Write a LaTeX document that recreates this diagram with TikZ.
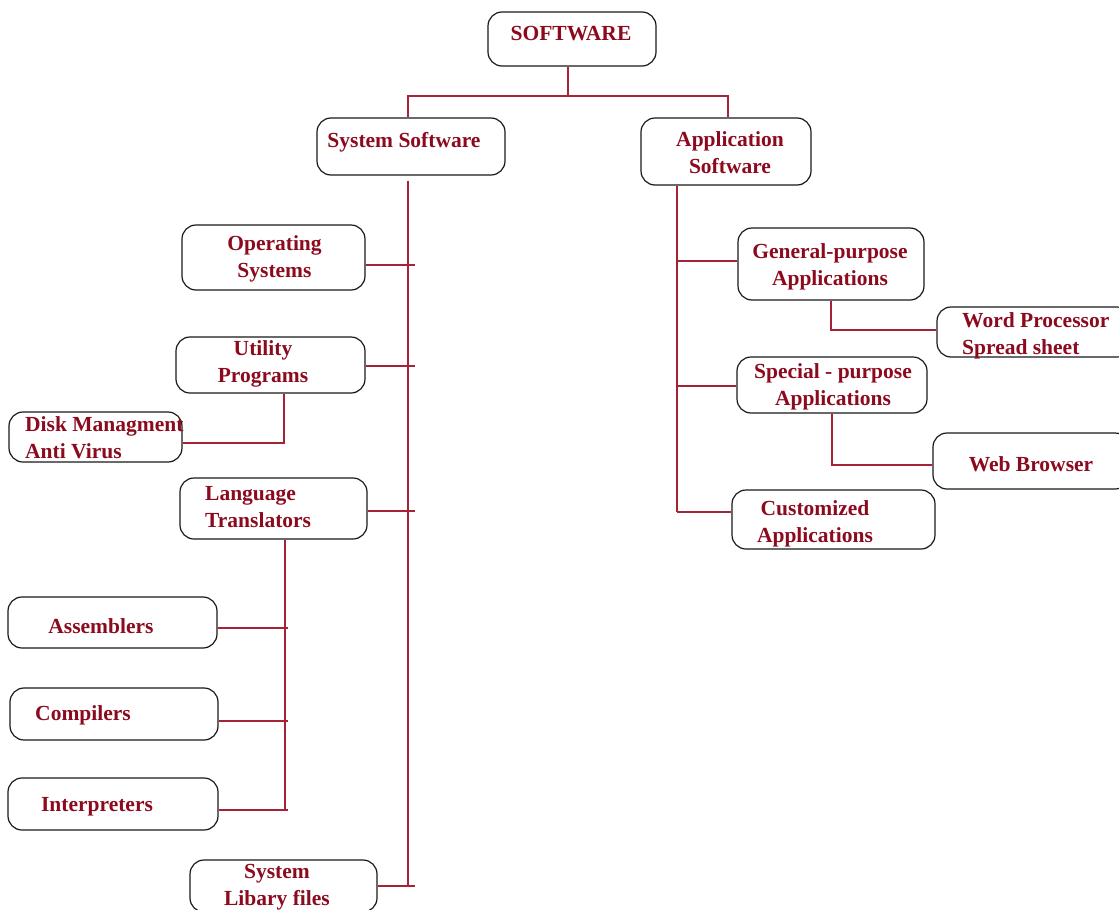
\documentclass[tikz,border=0pt]{standalone}
\usepackage{fontspec}
\setmainfont{Liberation Serif}
\definecolor{txtred}{RGB}{140,10,30}
\definecolor{linkred}{RGB}{165,35,55}

\begin{document}
\begin{tikzpicture}[x=1pt,y=1pt]
\tikzstyle{every node}+=[inner sep=0pt]
\tikzstyle{box}=[draw=black!90, line width=1.2pt, rounded corners=14pt]
\tikzstyle{txt}=[text=txtred, font=\fontsize{21.5}{27}\selectfont\bfseries, align=center, yshift=-2pt]
\tikzstyle{txtl}=[txt, align=left, anchor=west]
\tikzstyle{link}=[draw=linkred, line width=1.3pt]

\useasboundingbox (0,0) rectangle (1119,-910);

% boxes
\node[box, minimum width=168pt, minimum height=54pt] (soft) at (572,-39) {};
\node[box, minimum width=188pt, minimum height=57pt] (sys) at (411,-146.5) {};
\node[box, minimum width=170pt, minimum height=67pt] (app) at (726,-151.5) {};

\node[box, minimum width=183pt, minimum height=65pt] (os) at (273.5,-257.5) {};
\node[box, minimum width=189pt, minimum height=56pt] (util) at (270.5,-365) {};
\node[box, minimum width=173pt, minimum height=50pt] (disk) at (95.5,-437) {};
\node[box, minimum width=187pt, minimum height=61pt] (lang) at (273.5,-508.5) {};
\node[box, minimum width=209pt, minimum height=51pt] (asm) at (112.5,-622.5) {};
\node[box, minimum width=208pt, minimum height=52pt] (comp) at (114,-714) {};
\node[box, minimum width=210pt, minimum height=52pt] (interp) at (113,-804) {};
\node[box, minimum width=187pt, minimum height=52pt] (lib) at (283.5,-886) {};

\node[box, minimum width=186pt, minimum height=72pt] (gen) at (831,-264) {};
\node[box, minimum width=194pt, minimum height=50pt] (word) at (1034,-332) {};
\node[box, minimum width=190pt, minimum height=56pt] (spec) at (832,-385) {};
\node[box, minimum width=196pt, minimum height=56pt] (web) at (1031,-461) {};
\node[box, minimum width=203pt, minimum height=59pt] (cust) at (833.5,-519.5) {};

% texts
\node[txt] (softt) at (571,-32) {SOFTWARE};
\node[txt] (syst) at (404,-140) {System Software};
\node[txt] (appt) at (730,-151) {Application\\Software};
\node[txt] (ost) at (274.5,-257) {Operating\\Systems};
\node[txt] (utilt) at (263,-361.5) {Utility\\Programs};
\node[txtl] (diskt) at (25,-436) {Disk Managment\\Anti Virus};
\node[txtl] (langt) at (205,-505.5) {Language\\Translators};
\node[txt] (asmt) at (101,-624) {Assemblers};
\node[txt] (compt) at (83,-713) {Compilers};
\node[txt] (interpt) at (97,-805) {Interpreters};
\node[txt] (libt) at (277,-885) {System\\Libary files};
\node[txt] (gent) at (830,-265) {General-purpose\\Applications};
\node[txtl] (wordt) at (962,-333.5) {Word Processor\\Spread sheet};
\node[txt] (spect) at (833,-385) {Special - purpose\\Applications};
\node[txt] (webt) at (1031,-462) {Web Browser};
\node[txt] (custt) at (815,-522) {Customized\\Applications};

% connectors
\draw[link] ([xshift=-4pt]soft.south) -- ++(0,-29.5) coordinate (j0);
\draw[link] ([xshift=-3pt]sys.north) |- (j0) -| ([xshift=2pt]app.north);

\coordinate (sx) at ([xshift=-3pt,yshift=-5pt]sys.south);
\draw[link] (sx) -- (sx |- lib.east);
\foreach \n/\dy in {os/-7.5,util/-1,lang/-2.5,lib/0}
  \draw[link] ([yshift=\dy pt]\n.east) -- ([xshift=7pt,yshift=\dy pt]\n.east -| sx);

\draw[link] ([xshift=13.5pt]util.south) |- ([yshift=-6pt]disk.east);

\coordinate (lx) at ([xshift=11.5pt]lang.south);
\draw[link] (lx) -- ([yshift=-6pt]lx |- interp.east);
\foreach \n/\dy in {asm/-5.5,comp/-7,interp/-6}
  \draw[link] ([yshift=\dy pt]\n.east) -- ([xshift=3pt,yshift=\dy pt]\n.east -| lx);

\coordinate (ax) at ([xshift=-49pt]app.south);
\draw[link] (ax) -- ([yshift=7.5pt]ax |- cust.west);
\foreach \n/\dy in {gen/3,spec/-1,cust/7.5}
  \draw[link] ([yshift=\dy pt]ax |- \n.west) -- ([yshift=\dy pt]\n.west);

\draw[link] (gen.south) |- ([yshift=2pt]word.west);
\draw[link] (spec.south) |- ([yshift=-4pt]web.west);
\end{tikzpicture}
\end{document}
